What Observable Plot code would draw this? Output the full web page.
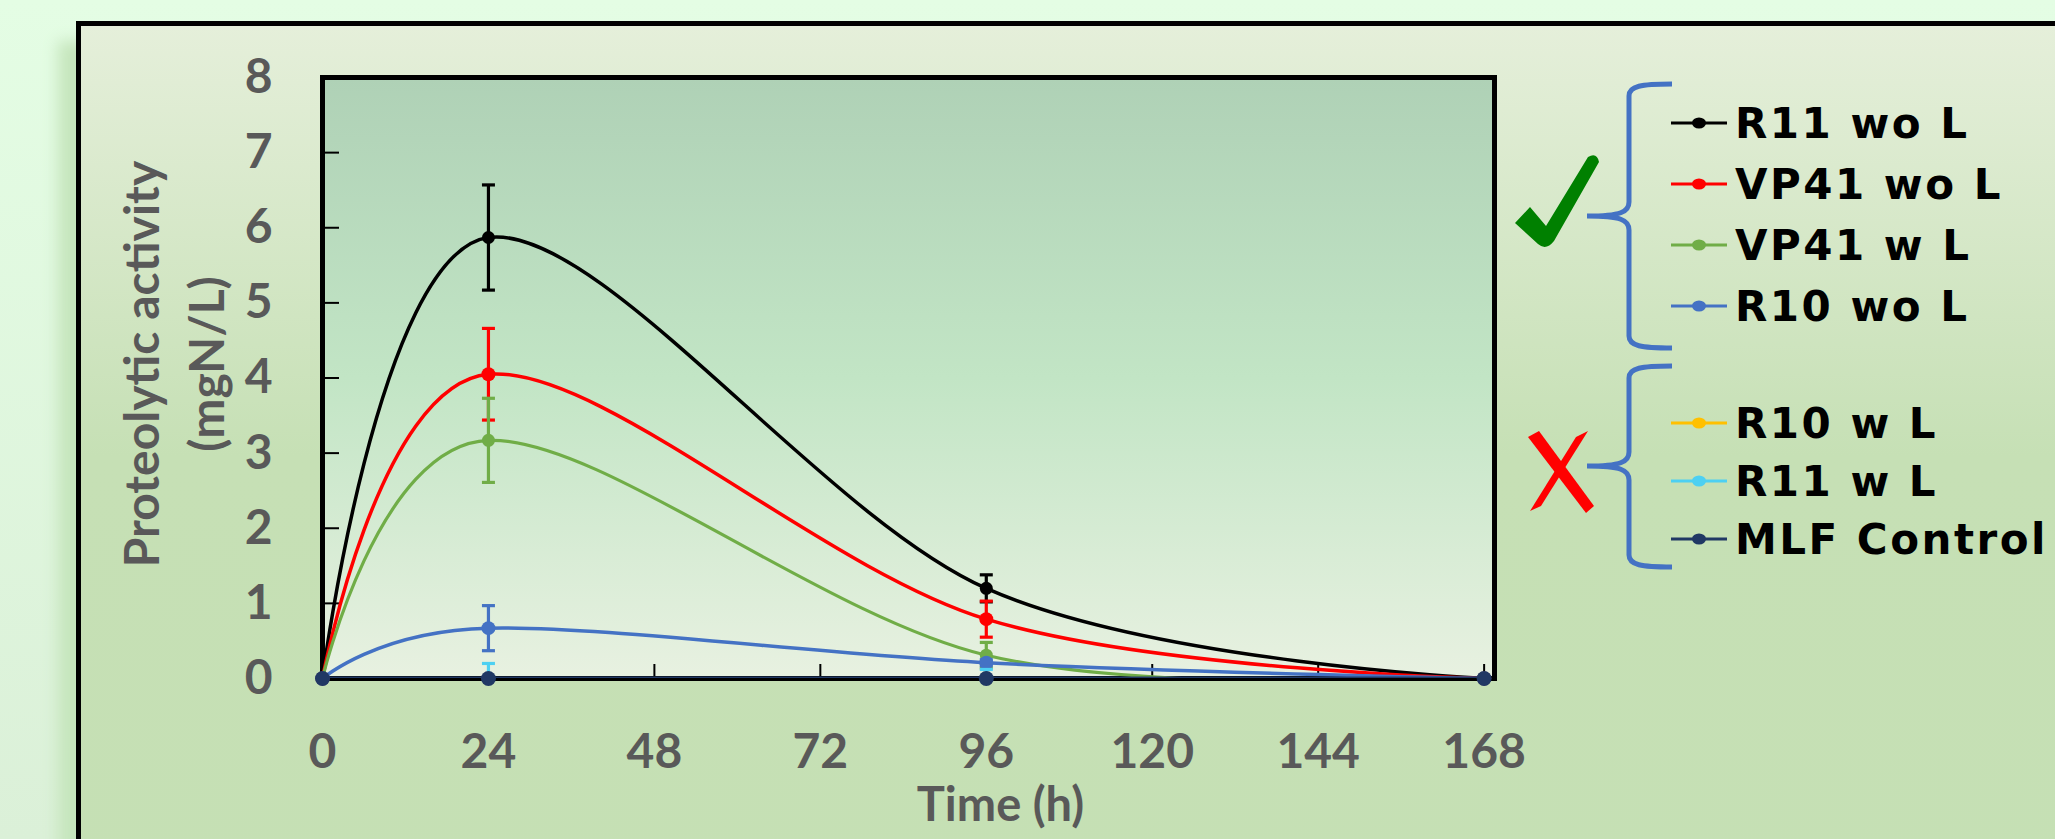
<!DOCTYPE html>
<html><head><meta charset="utf-8">
<script src="https://cdn.jsdelivr.net/npm/d3@7"></script>
<script src="https://cdn.jsdelivr.net/npm/@observablehq/plot@0.6"></script>
<style>
html,body{margin:0;padding:0;width:2055px;height:839px;overflow:hidden;}
body{background:linear-gradient(to bottom,#e4fde4,#dbf0d8);position:relative;}
#frame{position:absolute;left:76px;top:21px;width:2100px;height:900px;border-left:5px solid #000;border-top:5px solid #000;
 background:linear-gradient(to bottom,#e5efda 0px,#c6e0b5 430px,#c5e0b4 100%);box-shadow:-24px 14px 14px -6px #c6e6bd;}
#chart{position:absolute;left:0;top:0;}
#legend{position:absolute;left:0;top:0;}
</style></head><body>
<div id="frame"></div>
<div id="chart"></div>
<svg id="legend" width="2055" height="839"></svg>
<script>
// ---- data ----
const times = [0, 24, 96, 168];
const seriesNames = ["R11 wo L", "VP41 wo L", "VP41 w L", "R10 wo L", "R10 w L", "R11 w L", "MLF Control"];
const seriesColors = ["#000000", "#ff0000", "#70ad47", "#4472c4", "#ffc000", "#4dd0f2", "#203864"];
const r11woL   = [0, 5.87, 1.20, 0];
const vp41woL  = [0, 4.05, 0.79, 0];
const vp41wL   = [0, 3.17, 0.31, 0];
const r10woL   = [0, 0.67, 0.21, 0];
const r10wL    = [0, 0, 0, 0];
const r11wL    = [0, 0, 0, 0];
const mlfCtrl  = [0, 0, 0, 0];
const r11woLErr  = [0, 0.70, 0.18, 0];
const vp41woLErr = [0, 0.61, 0.24, 0];
const vp41wLErr  = [0, 0.56, 0.17, 0];
const r10woLErr  = [0, 0.30, 0.04, 0];
const r10wLErr   = [0, 0, 0, 0];
const r11wLErr   = [0, 0.20, 0.12, 0];
const mlfCtrlErr = [0, 0, 0, 0];
const xTicks = [0, 24, 48, 72, 96, 120, 144, 168];
const yTicks = [0, 1, 2, 3, 4, 5, 6, 7, 8];
const yTitle = "Proteolytic activity\n(mgN/L)";
const xTitle = "Time (h)";

const allValues = [r11woL, vp41woL, vp41wL, r10woL, r10wL, r11wL, mlfCtrl];
const allErrors = [r11woLErr, vp41woLErr, vp41wLErr, r10woLErr, r10wLErr, r11wLErr, mlfCtrlErr];
const lineWidths = [3.5, 3.5, 3.2, 3.5, 3, 3, 4];
const dotRadii = [6.5, 7, 6.5, 7, 6, 6, 7.5];

const series = seriesNames.map((name, k) => ({
  name, color: seriesColors[k], width: lineWidths[k], r: dotRadii[k],
  rows: times.map((t, i) => ({t, v: allValues[k][i], err: allErrors[k][i]}))
}));

const W = 2055, H = 839;
const font = "Lato, 'Open Sans', sans-serif";
const gray = "#595959";
const capSymbol = {draw(ctx, size) { const w = Math.sqrt(size / Math.PI); ctx.moveTo(-w, 0); ctx.lineTo(w, 0); }};

const marks = [
  Plot.frame({fill: "url(#plotbg)", stroke: "none"}),
  Plot.frame({stroke: "#000", strokeWidth: 5}),
  Plot.axisY({ticks: yTicks, tickSize: 0, tickPadding: 50, label: null, fontSize: 48, fontWeight: "bold", fill: gray, fontFamily: font, tickFormat: d => String(d)}),
  Plot.axisY({ticks: yTicks.slice(1, -1), tickSize: -17, stroke: "#000", strokeWidth: 2, fill: "none", label: null}),
  Plot.axisX({ticks: xTicks, tickSize: 0, tickPadding: 55, label: null, fontSize: 48, fontWeight: "bold", fill: gray, fontFamily: font, tickFormat: d => String(d)}),
  Plot.axisX({ticks: xTicks.slice(1), tickSize: -14, stroke: "#000", strokeWidth: 2, fill: "none", label: null}),
  Plot.text([yTitle], {text: d => d, frameAnchor: "left", rotate: -90, dx: -152, dy: -14, fontSize: 48, fontWeight: "bold", fill: gray, fontFamily: font, lineHeight: 1.35, textAnchor: "middle", lineAnchor: "middle"}),
  Plot.text([xTitle], {text: d => d, frameAnchor: "bottom", dx: 92, dy: 127, fontSize: 47, fontWeight: "bold", fill: gray, fontFamily: font, textAnchor: "middle", lineAnchor: "middle"})
];

for (const s of series) {
  const withErr = s.rows.filter(r => r.err > 0);
  marks.push(
    Plot.ruleX(withErr, {x: "t", y1: r => r.v - r.err, y2: r => r.v + r.err, stroke: s.color, strokeWidth: 3.2, clip: true}),
    Plot.dot(withErr, {x: "t", y: r => r.v + r.err, symbol: capSymbol, r: 6.5, fill: "none", stroke: s.color, strokeWidth: 3.2, clip: true}),
    Plot.dot(withErr, {x: "t", y: r => r.v - r.err, symbol: capSymbol, r: 6.5, fill: "none", stroke: s.color, strokeWidth: 3.2, clip: true}),
    Plot.line(s.rows, {x: "t", y: "v", stroke: s.color, strokeWidth: s.width, curve: "cardinal", clip: true}),
    Plot.dot(s.rows, {x: "t", y: "v", fill: s.color, r: s.r, stroke: "none"})
  );
}

const svg = Plot.plot({
  width: W, height: H,
  marginLeft: 322, marginRight: W - 1494, marginTop: 77, marginBottom: H - 678,
  x: {domain: [0, 169.5]},
  y: {domain: [0, 8]},
  style: {background: "transparent", fontFamily: font, overflow: "visible"},
  marks
});
const defs = d3.select(svg).insert("defs", ":first-child");
const lg = defs.append("linearGradient").attr("id", "plotbg").attr("x1", 0).attr("y1", 0).attr("x2", 0).attr("y2", 1);
[[0, "#afd1b6"], [0.5, "#c2e5c5"], [1, "#e8f1e1"]].forEach(([o, c]) => lg.append("stop").attr("offset", o).attr("stop-color", c));
document.getElementById("chart").appendChild(svg);

// ---- legend (outside plot) ----
const leg = d3.select("#legend");
const blue = "#4472c4";
function brace(xv, y0, y1, ym) {
  const xe = xv + 43, xt = xv - 42;
  return `M${xe},${y0} C${xv + 12},${y0} ${xv},${y0 + 2} ${xv},${y0 + 12} L${xv},${ym - 14} C${xv},${ym - 4} ${xv - 8},${ym} ${xt},${ym} ` +
         `M${xt},${ym} C${xv - 8},${ym} ${xv},${ym + 4} ${xv},${ym + 14} L${xv},${y1 - 12} C${xv},${y1 - 2} ${xv + 12},${y1} ${xe},${y1}`;
}
leg.append("path").attr("d", brace(1629, 84, 348, 216)).attr("fill", "none").attr("stroke", blue).attr("stroke-width", 5);
leg.append("path").attr("d", brace(1629, 366, 567, 466)).attr("fill", "none").attr("stroke", blue).attr("stroke-width", 5);
// check mark
leg.append("path").attr("d", "M1515,223 L1530,207 L1546,226 L1588,157 Q1597,152 1599,162 L1554,241 Q1546,251 1538,244 Z").attr("fill", "#008000");
// red X
leg.append("path").attr("d", "M1528,437 L1539,431 L1594,506 L1586,513 Z").attr("fill", "#ff0000");
leg.append("path").attr("d", "M1576,437 L1588,431 L1541,506 L1530,511 Z").attr("fill", "#ff0000");

const entryY = seriesNames.map((n, i) => i < 4 ? 123 + i * 61 : 423 + (i - 4) * 58);
const entries = leg.selectAll("g.entry").data(series).join("g").attr("class", "entry")
  .attr("transform", (d, i) => `translate(0,${entryY[i]})`);
entries.append("line").attr("x1", 1671).attr("x2", 1727).attr("y1", 0).attr("y2", 0).attr("stroke", d => d.color).attr("stroke-width", 3);
entries.append("ellipse").attr("cx", 1699).attr("cy", 0).attr("rx", 7).attr("ry", 5.5).attr("fill", d => d.color);
entries.append("text").attr("x", 1735).attr("y", 15).text(d => d.name)
  .attr("font-family", "'DejaVu Sans', Verdana, sans-serif").attr("font-weight", "bold").attr("font-size", 42)
  .attr("letter-spacing", 2.5).attr("fill", "#000");
</script>
</body></html>
